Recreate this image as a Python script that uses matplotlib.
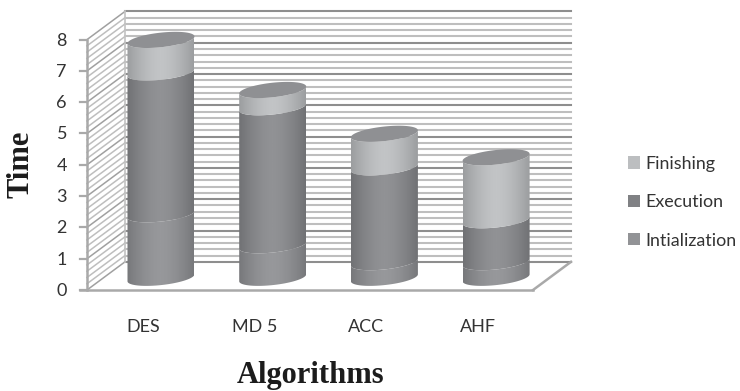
import numpy as np
import matplotlib
matplotlib.use("Agg")
import matplotlib.pyplot as plt
from matplotlib.patches import Patch, PathPatch, Polygon
from matplotlib.path import Path
from matplotlib.colors import LinearSegmentedColormap

algorithms = ["DES", "MD 5", "ACC", "AHF"]
initialization = [2.03, 1.04, 0.50, 0.50]
execution = [4.53, 4.41, 3.03, 1.34]
finishing = [1.04, 0.55, 1.07, 2.01]
y_ticks = [0, 1, 2, 3, 4, 5, 6, 7, 8]
series_names = ["Intialization", "Execution", "Finishing"]

# edge / middle colours of the cylinders
colors = {
    "Intialization": ("#77787b", "#97989b"),
    "Execution": ("#707174", "#919295"),
    "Finishing": ("#9b9d9f", "#c2c4c6"),
}
legend_colors = {"Intialization": "#929396", "Execution": "#808184", "Finishing": "#bcbec0"}

# one category = 111.7 px, one time unit = 31.3 px
px_x = 111.7
px_y = 31.3
fig = plt.figure(figsize=(7.4, 3.91), dpi=100)
ax = fig.add_axes([0, 0, 1, 1])
ax.set_xlim(-161 / px_x, (740 - 161) / px_x)
ax.set_ylim((290 - 391) / px_y, 290 / px_y)
ax.axis("off")

depth_x = 38 / px_x
depth_y = 0.9
left = -74 / px_x
floor_right = 372 / px_x
top = 8

# walls and floor
for v in np.arange(0, 8.01, 0.2):
    major = abs(v - round(v)) < 0.01
    col = "#8e8e8e" if major else "#bebebe"
    ax.plot([left + depth_x, floor_right + depth_x], [v + depth_y, v + depth_y], color=col, lw=1.5, zorder=1)
    ax.plot([left, left + depth_x], [v, v + depth_y], color="#a0a0a0" if major else "#bebebe", lw=1.1, zorder=1)

axis_col = "#a9a9a9"
ax.plot([left, left], [0, top], color=axis_col, lw=1.8, zorder=2)
ax.plot([left - 7 / px_x, floor_right], [0, 0], color=axis_col, lw=1.8, zorder=2)
ax.plot([floor_right, floor_right + depth_x], [0, depth_y], color=axis_col, lw=1.8, zorder=2)
ax.plot([left + depth_x, left + depth_x], [depth_y, top + depth_y], color="#c2c2c2", lw=1.2, zorder=1)
for v in y_ticks:
    ax.plot([left - 7 / px_x, left], [v, v], color=axis_col, lw=1.6, zorder=2)
    ax.text(left - 20 / px_x, v - 0.03, str(v), ha="right", va="center", fontsize=13, family="Lato", color="#333333")

# cylinders
half_w = 33.5 / px_x
tilt = 3.5 / px_y
half_h = 7.3 / px_y
base = 0.39
t = np.linspace(0, np.pi, 60)
shade = 1 - np.abs(np.linspace(-1, 1, 200)) ** 1.6
shade = shade.reshape(1, -1)


def front_arc(cx, cy):
    # lower half of the tilted ellipse, left to right
    xs = cx - half_w * np.cos(t)
    ys = cy - tilt * np.cos(t) - half_h * np.sin(t)
    return xs, ys


def cylinder_part(cx, y0, y1, name, z):
    xb, yb = front_arc(cx, y0)
    xt, yt = front_arc(cx, y1)
    pts = np.column_stack([np.r_[xb, xt[::-1]], np.r_[yb, yt[::-1]]])
    cmap = LinearSegmentedColormap.from_list(name, list(colors[name]))
    im = ax.imshow(shade, cmap=cmap, vmin=0, vmax=1, aspect="auto", zorder=z,
                   extent=[cx - half_w, cx + half_w, y0 - 1, y1 + 1])
    im.set_clip_path(PathPatch(Path(pts, closed=False), transform=ax.transData))


for i in range(len(algorithms)):
    start = base
    parts = [initialization[i], execution[i], finishing[i]]
    for j, name in enumerate(series_names):
        cylinder_part(i, start, start + parts[j], name, 3 + j)
        start = start + parts[j]
    th = np.linspace(0, 2 * np.pi, 120)
    xs = i - half_w * np.cos(th)
    ys = start - tilt * np.cos(th) - half_h * np.sin(th)
    ax.add_patch(Polygon(np.column_stack([xs, ys]), closed=True, fc="#8f9093", ec="none", zorder=7))
    ax.text(i - 18 / px_x, -37 / px_y, algorithms[i], ha="center", va="center", fontsize=13, family="Lato", color="#333333")

ax.set_xlim(-161 / px_x, (740 - 161) / px_x)
ax.set_ylim((290 - 391) / px_y, 290 / px_y)

handles = [Patch(fc=legend_colors[n], ec="none") for n in reversed(series_names)]
ax.legend(handles, list(reversed(series_names)), loc="center left", bbox_to_anchor=(0.849, 0.483),
          frameon=False, prop={"family": "Lato", "size": 12.9}, handlelength=0.68, handleheight=0.68,
          labelspacing=1.25, handletextpad=0.3, borderpad=0, borderaxespad=0, labelcolor="#333333")

ax.text(21 / 740, 1 - 164 / 391, "Time", rotation=90, transform=ax.transAxes, ha="center", va="center",
        fontsize=22, fontweight="bold", family="Liberation Serif", color="#1c1c1c")
ax.text(311 / 740, 1 - 375 / 391, "Algorithms", transform=ax.transAxes, ha="center", va="center",
        fontsize=22, fontweight="bold", family="Liberation Serif", color="#1c1c1c")

fig.savefig("out.png", dpi=100)
